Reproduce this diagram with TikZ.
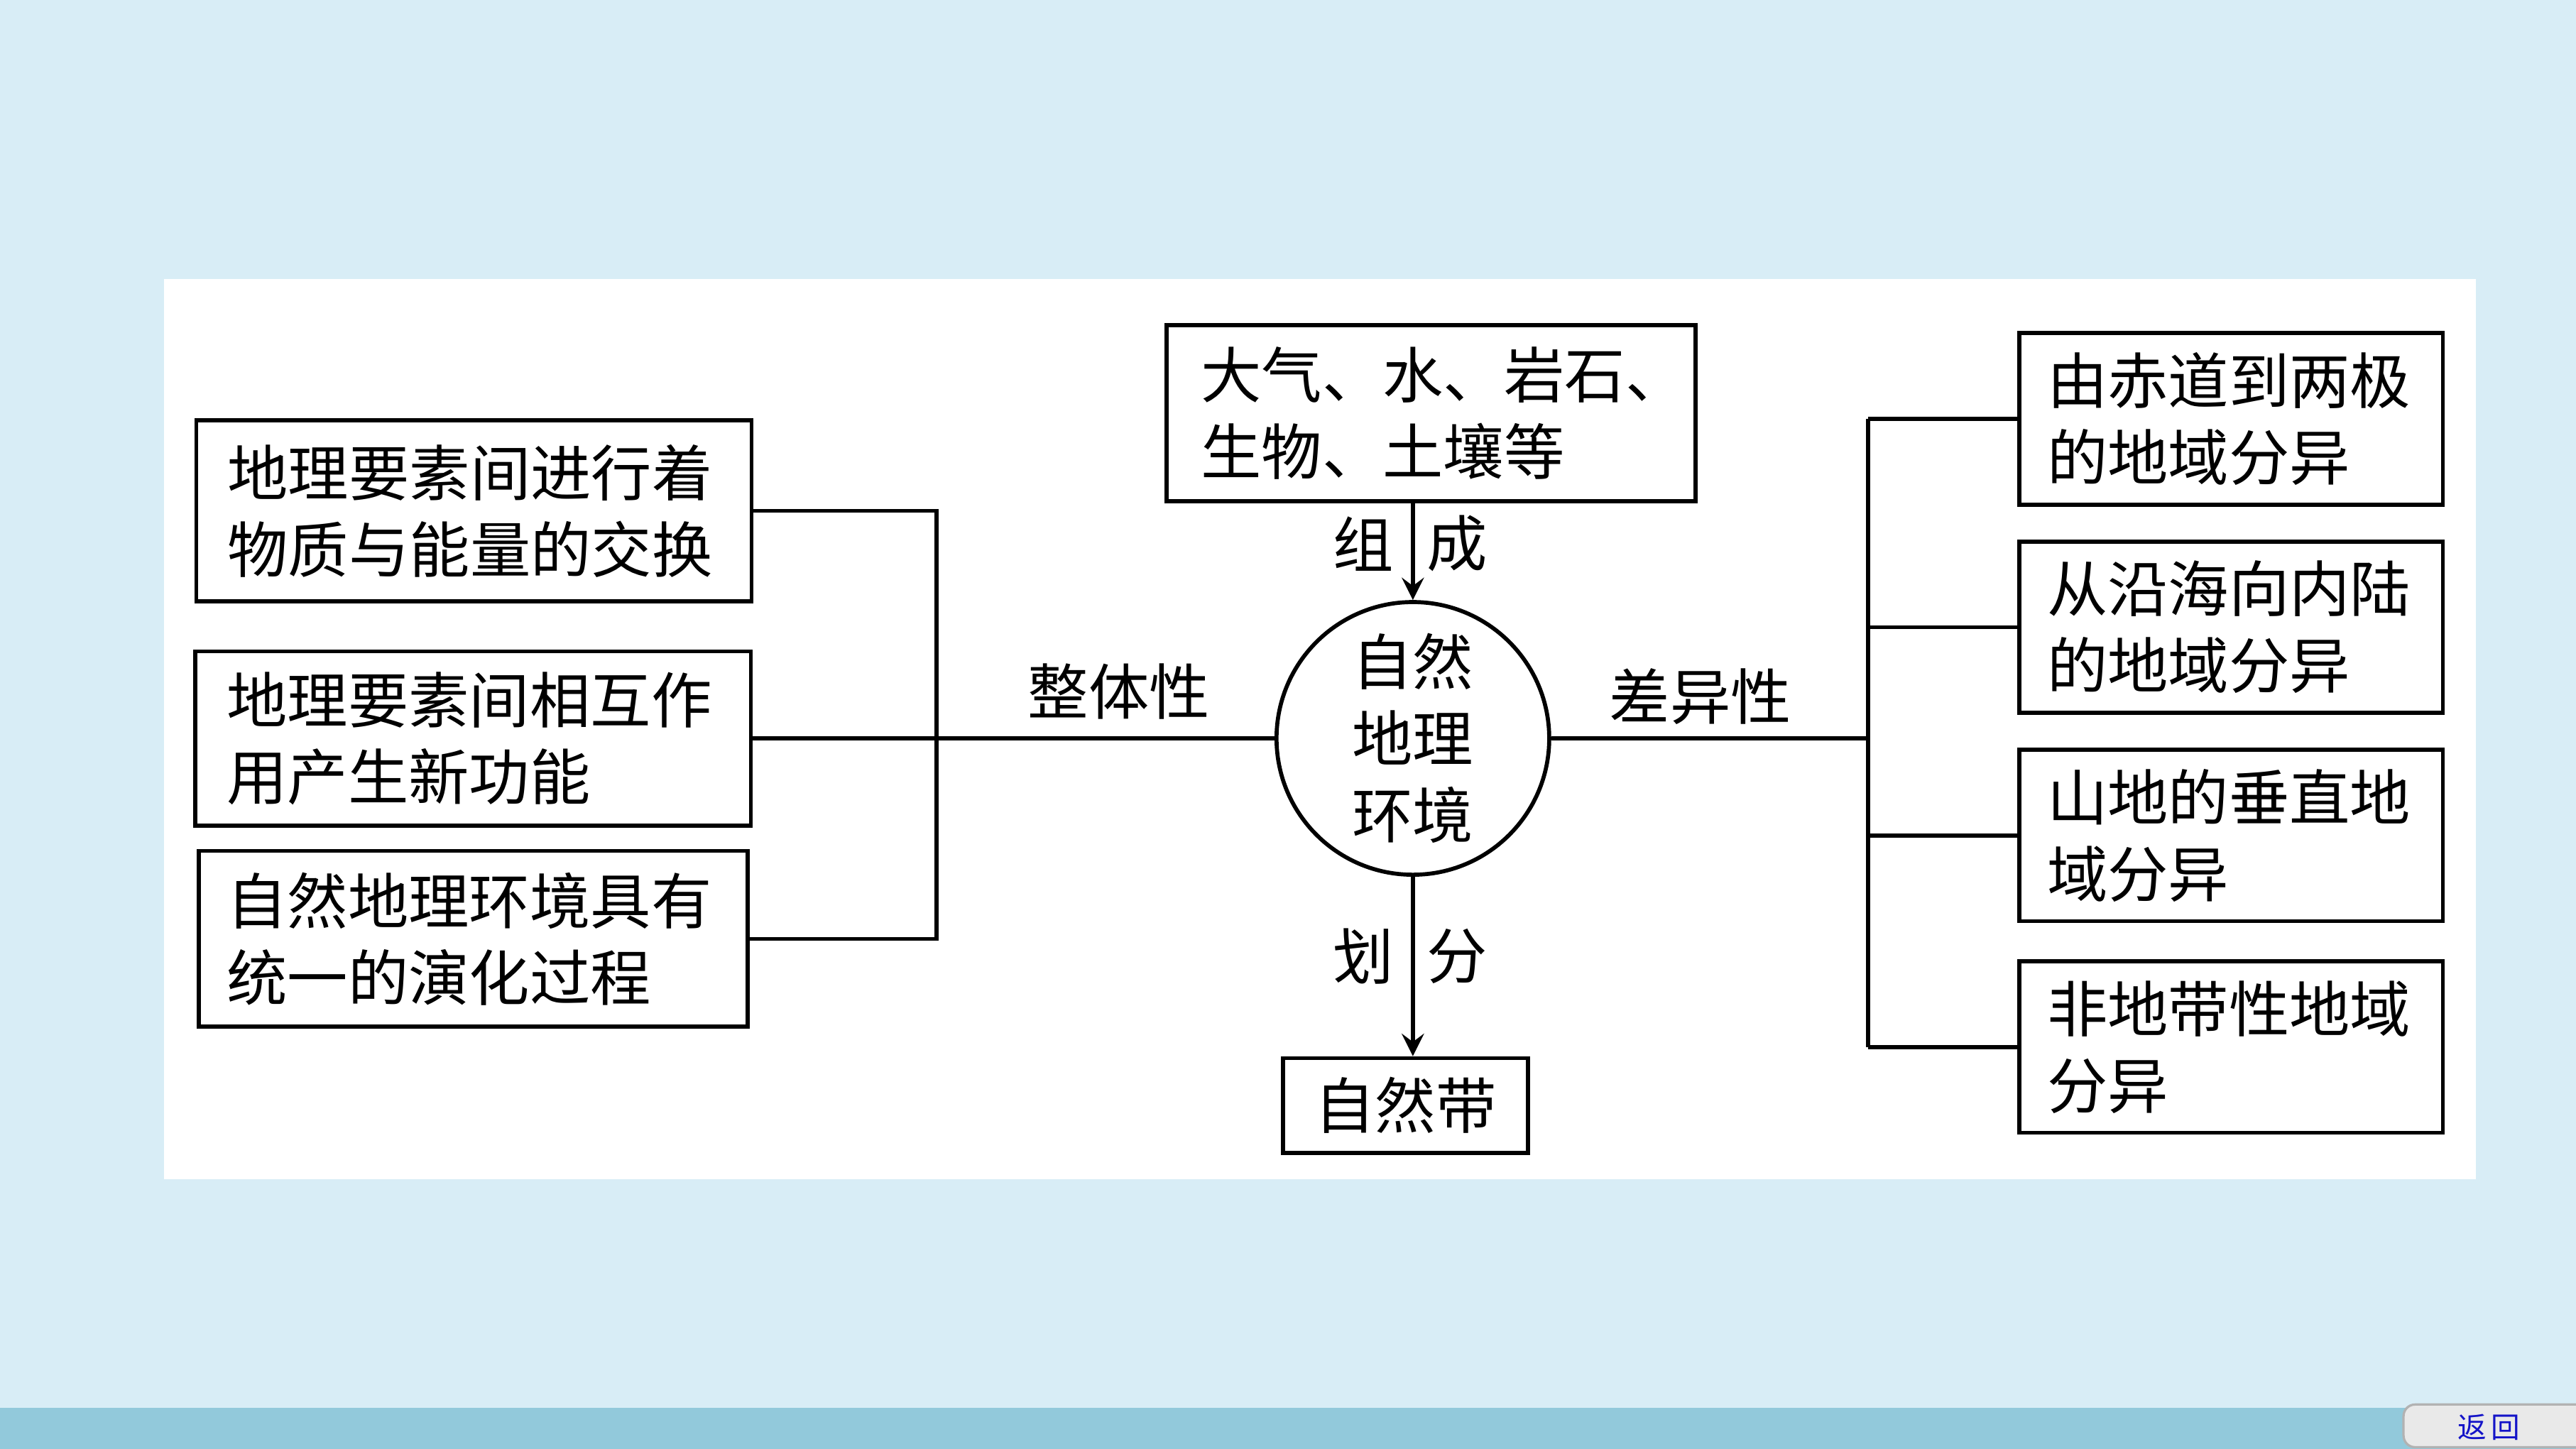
\documentclass[tikz,border=0pt]{standalone}
\usepackage{fontspec}
\newfontfamily\cjk{Noto Sans CJK SC}
\usetikzlibrary{arrows, positioning, shapes.geometric}
\definecolor{mybg}{RGB}{216, 237, 246}
\definecolor{mybar}{RGB}{146, 201, 219}
\definecolor{mybtn}{RGB}{233, 233, 233}
\definecolor{myblue}{RGB}{20, 20, 200}

\begin{document}
\begin{tikzpicture}[
    font=\cjk\fontsize{10.5}{13.3}\selectfont,
    node distance=0.20cm,
    box/.style={rectangle, draw=black, line width=0.7pt, align=left, inner xsep=0.17cm},
    lbox/.style={box, minimum width=3.38cm, minimum height=1.07cm, text width=3.0cm},
    rbox/.style={box, minimum width=2.58cm, minimum height=1.04cm, text width=2.24cm},
    hub/.style={circle, draw=black, line width=0.7pt, minimum size=1.66cm, inner sep=0pt, align=center},
    lbl/.style={inner sep=0pt},
    line/.style={line width=0.7pt},
    arrow/.style={line width=0.7pt,->,>=stealth}
]
\useasboundingbox (0,0) rectangle (15.68,8.82);

% Background
\fill[mybg] (0,0) rectangle (15.68,8.82);
\fill[white] (1.00,1.64) rectangle (15.07,7.12);
\fill[mybar] (0,0) rectangle (15.68,0.25);
\draw[gray!60, fill=mybtn, rounded corners=2pt] (14.63,0.01) rectangle (15.80,0.27);
\node[lbl, text=myblue, font=\cjk\fontsize{5}{6}\selectfont] (back) at (15.15,0.13) {返\,回};

% Centre
\node[hub] (hub) at (8.60,4.325) {自然\\地理\\环境};
\node[box, minimum width=3.22cm, minimum height=1.07cm, text width=2.80cm] (top) at (8.71,6.305) {大气、水、岩石、\\生物、土壤等};
\node[box, minimum width=1.49cm, minimum height=0.50cm, align=center] (zone) at (8.555,2.09) {自然带};

% Left side
\node[lbox, minimum height=1.10cm] (L1) at (2.885,5.71) {地理要素间进行着\\物质与能量的交换};
\node[lbox, minimum height=1.06cm] (L2) at (2.88,4.325) {地理要素间相互作\\用产生新功能};
\node[lbox, minimum width=3.34cm] (L3) at (2.88,3.105) {自然地理环境具有\\统一的演化过程};

% Right side
\node[rbox] (R1) at (13.58,6.27) {由赤道到两极\\的地域分异};
\node[rbox, below=of R1] (R2) {从沿海向内陆\\的地域分异};
\node[rbox, below=of R2] (R3) {山地的垂直地\\域分异};
\node[rbox, below=0.22cm of R3] (R4) {非地带性地域\\分异};

% Labels
\node[lbl] (whole) at (6.81,4.61) {整体性};
\node[lbl] (diff) at (10.35,4.58) {差异性};
\node[lbl] (zu) at (8.30,5.51) {组};
\node[lbl] (cheng) at (8.87,5.51) {成};
\node[lbl] (hua) at (8.30,3.00) {划};
\node[lbl] (fen) at (8.87,3.00) {分};

% Connectors
\coordinate (lj) at (5.70,4.325);
\coordinate (rj) at (11.37,4.325);

\draw[line] (L1.east) -- (L1.east -| lj) -- (L3.east -| lj) -- (L3.east);
\draw[line] (L2.east) -- (hub.west);

\draw[line] (hub.east) -- (rj);
\draw[line] (R1.west -| rj) -- (R4.west -| rj);
\foreach \n in {R1,R2,R3,R4}
    \draw[line] (\n.west) -- (\n.west -| rj);

\draw[arrow] (top.south -| hub.north) -- (hub.north);
\draw[arrow] (hub.south) -- (hub.south |- zone.north);

\end{tikzpicture}
\end{document}
